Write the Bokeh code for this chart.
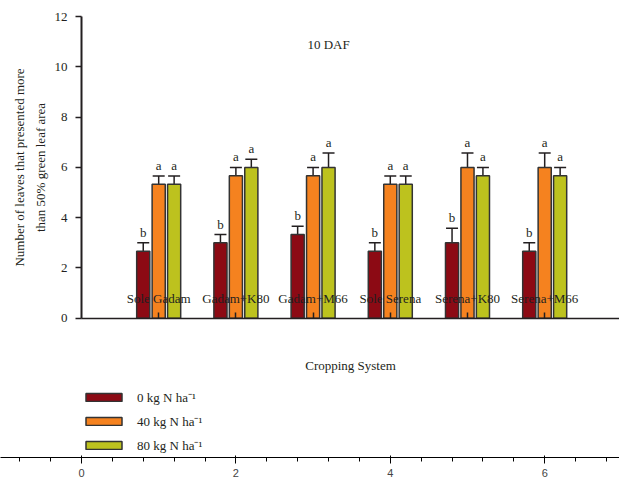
import numpy as np
from bokeh.plotting import figure
from bokeh.models import (Range1d, FixedTicker, Whisker, TeeHead, ColumnDataSource,
                          Legend, LegendItem, Label, LinearAxis)
from bokeh.core.properties import value
from bokeh.embed import file_html
from bokeh.resources import INLINE

categories = ["Sole Gadam", "Gadam+K80", "Gadam+M66", "Sole Serena", "Serena+K80", "Serena+M66"]
series_names = ["0 kg N ha\u207b\u00b9", "40 kg N ha\u207b\u00b9", "80 kg N ha\u207b\u00b9"]
n0_mean = [2.67, 3.00, 3.33, 2.67, 3.00, 2.67]
n0_se = [0.33, 0.33, 0.33, 0.33, 0.58, 0.33]
n40_mean = [5.33, 5.67, 5.67, 5.33, 6.00, 6.00]
n40_se = [0.33, 0.33, 0.33, 0.33, 0.58, 0.58]
n80_mean = [5.33, 6.00, 6.00, 5.33, 5.67, 5.67]
n80_se = [0.33, 0.33, 0.58, 0.33, 0.33, 0.33]
n0_letters = ["b", "b", "b", "b", "b", "b"]
n40_letters = ["a", "a", "a", "a", "a", "a"]
n80_letters = ["a", "a", "a", "a", "a", "a"]
y_ticks = [0, 2, 4, 6, 8, 10, 12]
title_text = "10 DAF"
x_title = "Cropping System"
y_title = "Number of leaves that presented more\nthan 50% green leaf area"

colors = ["#8C0A14", "#F5821F", "#BDC21E"]
offsets = [-0.2, 0.0, 0.2]
bar_w = 0.17
FONT = "Liberation Serif"
TXT = "#231f20"
EDGE = "#333333"
X_END = 6.969
Y_TOP = 12

positions = np.arange(1, len(categories) + 1)

# The frame covers the whole page so that titles and the legend (annotations) sit
# inside it; the axes are pinned at 0 and bounded to the data area.
p = figure(width=619, height=479, output_backend="svg", toolbar_location=None,
           x_range=Range1d(-1.049, X_END), y_range=Range1d(-5.544, 12.646),
           min_border_left=0, min_border_right=0, min_border_top=0, min_border_bottom=0)
p.outline_line_color = None
p.xgrid.visible = False
p.ygrid.visible = False

means = [n0_mean, n40_mean, n80_mean]
ses = [n0_se, n40_se, n80_se]
letters = [n0_letters, n40_letters, n80_letters]
items = []
for i in range(3):
    xs = positions + offsets[i]
    top = np.array(means[i])
    up = top + np.array(ses[i])
    src = ColumnDataSource(dict(x=xs, top=top, up=up, lab=letters[i]))
    r = p.vbar(x="x", top="top", width=bar_w, bottom=0, source=src,
               fill_color=colors[i], line_color=EDGE, line_width=1.5)
    items.append(LegendItem(label=series_names[i], renderers=[r]))
    w = Whisker(base="x", lower="top", upper="up", source=src, dimension="height",
                line_color=TXT, line_width=1.5,
                upper_head=TeeHead(size=12, line_color=TXT, line_width=1.5), lower_head=None)
    p.add_layout(w)
    p.text(x="x", y="up", text="lab", source=src, text_align="center",
           text_baseline="bottom", y_offset=-3, text_font=value(FONT),
           text_font_size="13px", text_color=TXT)

# top border line (an empty axis pinned at y = 12)
top_axis = LinearAxis(fixed_location=Y_TOP, bounds=(0, X_END),
                      ticker=FixedTicker(ticks=[], minor_ticks=[]),
                      axis_line_color=TXT, axis_line_width=2,
                      major_tick_line_color=None, minor_tick_line_color=None,
                      major_label_text_font_size="0px")
p.add_layout(top_axis, "above")

p.add_layout(Label(x=3.2, y=10.9, text=title_text, text_align="center",
                   text_baseline="middle", text_font=FONT, text_font_size="13px",
                   text_color=TXT))

for ax in (p.xaxis[0], p.yaxis[0]):
    ax.axis_line_color = TXT
    ax.axis_line_width = 1.5
    ax.major_tick_line_color = TXT
    ax.major_tick_line_width = 1.5
    ax.major_tick_out = 6
    ax.major_tick_in = 0
    ax.minor_tick_line_color = None
    ax.major_label_text_font = FONT
    ax.major_label_text_font_size = "13px"
    ax.major_label_text_color = TXT

p.xaxis[0].ticker = FixedTicker(ticks=list(positions))
p.xaxis[0].major_label_overrides = {int(k): c for k, c in zip(positions, categories)}
p.xaxis[0].major_label_standoff = 6
p.xaxis[0].fixed_location = 0
p.xaxis[0].bounds = (0, X_END)

p.yaxis[0].ticker = FixedTicker(ticks=y_ticks)
p.yaxis[0].fixed_location = 0
p.yaxis[0].bounds = (0, Y_TOP)
p.yaxis[0].major_label_standoff = 8
p.yaxis[0].axis_line_width = 2

# axis titles
p.add_layout(Label(x=3.485, y=-1.9, text=x_title, text_align="center",
                   text_baseline="middle", text_font=FONT, text_font_size="13px",
                   text_color=TXT))
p.add_layout(Label(x=29, x_units="screen", y=6, text=y_title, angle=np.pi / 2,
                   text_align="center", text_baseline="middle", text_line_height=1.4,
                   text_font=FONT, text_font_size="13px", text_color=TXT))

legend = Legend(items=items, location=(81, 3), orientation="vertical",
                glyph_width=45, glyph_height=10, label_standoff=11, spacing=6,
                padding=0, margin=0, border_line_color=None, background_fill_alpha=0,
                label_text_font=FONT, label_text_font_size="13px", label_text_color=TXT,
                label_height=14)
p.add_layout(legend, "center")

open("out.html", "w").write(file_html(p, INLINE))
